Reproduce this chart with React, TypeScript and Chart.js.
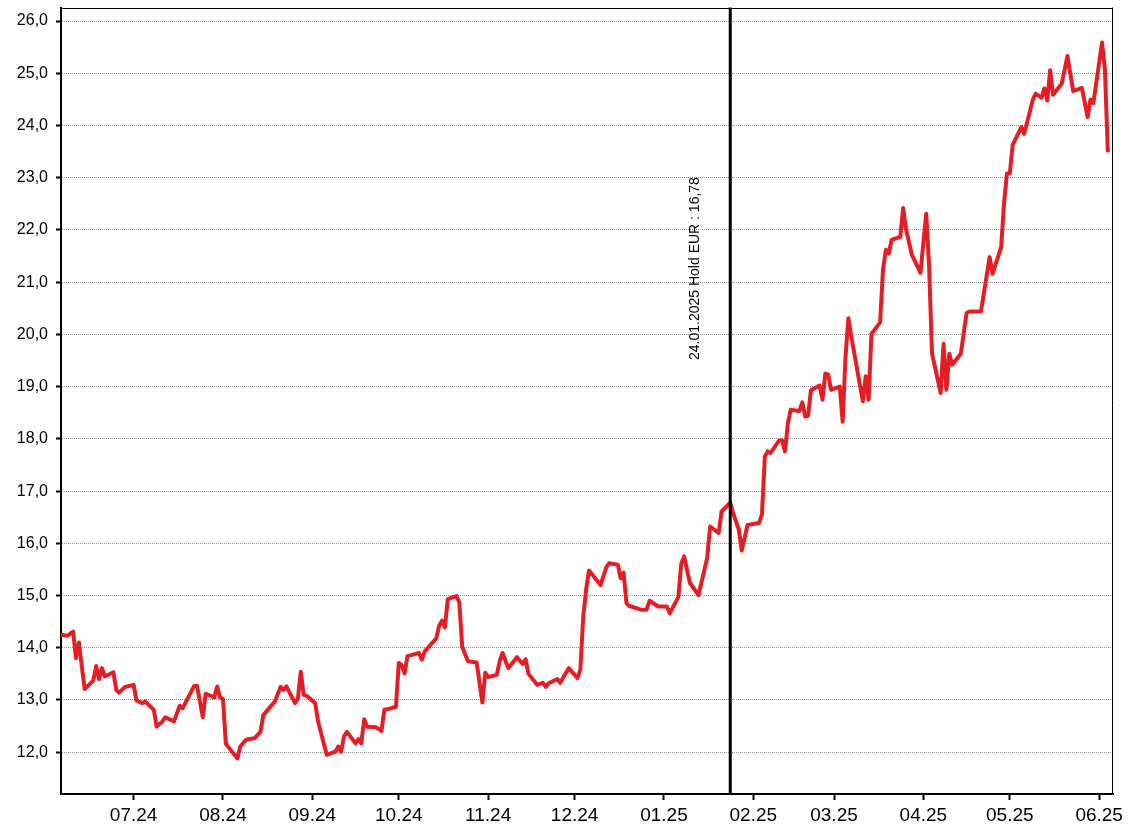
import React, { useEffect, useRef } from "react";
import { Chart, registerables } from "chart.js";

Chart.register(...registerables);

const dates: string[] = [
  "2024-06-06","2024-06-08","2024-06-10","2024-06-11","2024-06-12","2024-06-14","2024-06-17","2024-06-18","2024-06-19","2024-06-20",
  "2024-06-21","2024-06-24","2024-06-25","2024-06-26","2024-06-28","2024-07-01","2024-07-02","2024-07-04","2024-07-05","2024-07-08",
  "2024-07-09","2024-07-11","2024-07-12","2024-07-15","2024-07-17","2024-07-18","2024-07-22","2024-07-23","2024-07-25","2024-07-26",
  "2024-07-29","2024-07-30","2024-07-31","2024-08-01","2024-08-02","2024-08-06","2024-08-07","2024-08-09","2024-08-12","2024-08-14",
  "2024-08-15","2024-08-19","2024-08-21","2024-08-22","2024-08-23","2024-08-26","2024-08-27","2024-08-28","2024-08-29","2024-08-30",
  "2024-09-02","2024-09-03","2024-09-06","2024-09-09","2024-09-10","2024-09-11","2024-09-12","2024-09-13","2024-09-16","2024-09-17",
  "2024-09-18","2024-09-19","2024-09-20","2024-09-23","2024-09-25","2024-09-26","2024-09-27","2024-09-30","2024-10-01","2024-10-02",
  "2024-10-03","2024-10-04","2024-10-08","2024-10-09","2024-10-10","2024-10-14","2024-10-15","2024-10-16","2024-10-17","2024-10-18",
  "2024-10-21","2024-10-22","2024-10-23","2024-10-25","2024-10-28","2024-10-30","2024-10-31","2024-11-01","2024-11-04","2024-11-05",
  "2024-11-06","2024-11-08","2024-11-11","2024-11-13","2024-11-14","2024-11-15","2024-11-18","2024-11-20","2024-11-21","2024-11-22",
  "2024-11-25","2024-11-26","2024-11-28","2024-11-29","2024-12-02","2024-12-03","2024-12-04","2024-12-05","2024-12-06","2024-12-10",
  "2024-12-12","2024-12-13","2024-12-16","2024-12-17","2024-12-18","2024-12-19","2024-12-20","2024-12-24","2024-12-26","2024-12-27",
  "2024-12-30","2025-01-02","2025-01-03","2025-01-06","2025-01-07","2025-01-08","2025-01-10","2025-01-13","2025-01-16","2025-01-17",
  "2025-01-20","2025-01-21","2025-01-23","2025-01-24","2025-01-25","2025-01-27","2025-01-28","2025-01-30","2025-02-03","2025-02-04",
  "2025-02-05","2025-02-06","2025-02-07","2025-02-10","2025-02-11","2025-02-12","2025-02-13","2025-02-14","2025-02-17","2025-02-18",
  "2025-02-19","2025-02-20","2025-02-21","2025-02-24","2025-02-25","2025-02-26","2025-02-27","2025-02-28","2025-03-03","2025-03-04",
  "2025-03-05","2025-03-06","2025-03-07","2025-03-11","2025-03-12","2025-03-13","2025-03-14","2025-03-17","2025-03-18","2025-03-19",
  "2025-03-20","2025-03-21","2025-03-24","2025-03-25","2025-03-26","2025-03-28","2025-03-31","2025-04-02","2025-04-03","2025-04-04",
  "2025-04-07","2025-04-08","2025-04-09","2025-04-10","2025-04-11","2025-04-14","2025-04-16","2025-04-17","2025-04-21","2025-04-22",
  "2025-04-24","2025-04-25","2025-04-28","2025-04-29","2025-04-30","2025-05-01","2025-05-02","2025-05-05","2025-05-06","2025-05-09",
  "2025-05-10","2025-05-12","2025-05-13","2025-05-14","2025-05-15","2025-05-16","2025-05-19","2025-05-21","2025-05-23","2025-05-26",
  "2025-05-28","2025-05-29","2025-05-30","2025-06-02","2025-06-03","2025-06-04"
];

const values: number[] = [
  14.25,14.23,14.31,13.80,14.10,13.21,13.37,13.65,13.40,13.61,
  13.45,13.53,13.19,13.14,13.25,13.29,12.99,12.94,12.97,12.81,
  12.49,12.59,12.67,12.59,12.89,12.84,13.27,13.27,12.67,13.12,
  13.05,13.26,13.05,13.02,12.16,11.88,12.11,12.24,12.27,12.39,
  12.71,12.97,13.25,13.19,13.26,12.94,13.03,13.54,13.10,13.08,
  12.94,12.59,11.95,12.01,12.11,12.01,12.30,12.39,12.17,12.25,
  12.17,12.63,12.49,12.48,12.41,12.82,12.82,12.87,13.71,13.67,
  13.51,13.84,13.90,13.77,13.93,14.18,14.42,14.52,14.39,14.93,
  14.99,14.87,14.02,13.74,13.72,12.95,13.52,13.44,13.48,13.74,
  13.90,13.61,13.82,13.69,13.78,13.50,13.29,13.33,13.25,13.32,
  13.40,13.33,13.52,13.61,13.42,13.58,14.60,15.11,15.48,15.20,
  15.54,15.62,15.59,15.33,15.44,14.85,14.80,14.73,14.73,14.90,
  14.79,14.79,14.66,14.97,15.61,15.75,15.24,15.01,15.72,16.32,
  16.20,16.61,16.72,16.78,16.58,16.26,15.86,16.35,16.39,16.55,
  17.66,17.76,17.73,17.97,17.97,17.76,18.30,18.56,18.53,18.70,
  18.43,18.44,18.93,19.02,18.75,19.25,19.23,18.94,19.00,18.33,
  19.58,20.31,19.96,18.72,19.20,18.75,20.01,20.23,21.24,21.62,
  21.55,21.81,21.87,22.42,22.01,21.53,21.18,22.31,21.30,19.64,
  18.88,19.82,18.94,19.63,19.42,19.63,20.41,20.44,20.44,20.79,
  21.48,21.16,21.67,22.52,23.08,23.08,23.63,23.97,23.84,24.50,
  24.61,24.53,24.71,24.48,25.06,24.59,24.80,25.33,24.66,24.72,
  24.16,24.50,24.43,25.59,25.07,23.52
];

const monthTicks: string[] = [
  "2024-07-01","2024-08-01","2024-09-01","2024-10-01","2024-11-01","2024-12-01",
  "2025-01-01","2025-02-01","2025-03-01","2025-04-01","2025-05-01","2025-06-01"
];
const monthLabels: string[] = [
  "07.24","08.24","09.24","10.24","11.24","12.24","01.25","02.25","03.25","04.25","05.25","06.25"
];
const yTicks: number[] = [12,13,14,15,16,17,18,19,20,21,22,23,24,25,26];

const markerDate = "2025-01-24";
const markerLabel = "24.01.2025 Hold EUR : 16,78";

const BASE = Date.UTC(2024, 6, 1);
const toDay = (s: string) => (Date.parse(s) - BASE) / 86400000;

const FONT = "'Liberation Sans', Arial, sans-serif";

export default function App() {
  const ref = useRef<HTMLCanvasElement | null>(null);

  useEffect(() => {
    document.body.style.margin = "0";
    const canvas = ref.current;
    if (!canvas) return;

    const markerPlugin = {
      id: "marker",
      afterDatasetsDraw(chart: any) {
        const { ctx, chartArea } = chart;
        const x = chart.scales.x.getPixelForValue(toDay(markerDate));
        ctx.save();
        ctx.strokeStyle = "#000";
        ctx.lineWidth = 3;
        ctx.beginPath();
        ctx.moveTo(x, chartArea.top);
        ctx.lineTo(x, chartArea.bottom);
        ctx.stroke();
        ctx.translate(x - 31, chartArea.top + 352.5);
        ctx.rotate(-Math.PI / 2);
        ctx.fillStyle = "#000";
        ctx.font = "14px " + FONT;
        ctx.textAlign = "left";
        ctx.textBaseline = "alphabetic";
        ctx.fillText(markerLabel, 0, 0);
        ctx.restore();
      },
      afterDraw(chart: any) {
        const { ctx, chartArea } = chart;
        ctx.save();
        ctx.strokeStyle = "#000";
        ctx.lineWidth = 1;
        ctx.beginPath();
        ctx.moveTo(chartArea.left, Math.round(chartArea.top) + 0.5);
        ctx.lineTo(chartArea.right, Math.round(chartArea.top) + 0.5);
        ctx.moveTo(Math.round(chartArea.right) - 0.5, chartArea.top);
        ctx.lineTo(Math.round(chartArea.right) - 0.5, chartArea.bottom);
        ctx.stroke();
        ctx.restore();
      },
    };

    const chart = new Chart(canvas, {
      type: "line",
      data: {
        datasets: [
          {
            data: dates.map((d, i) => ({ x: toDay(d), y: values[i] })),
            borderColor: "rgb(228,30,36)",
            borderWidth: 4,
            pointRadius: 0,
            tension: 0,
            borderJoinStyle: "round",
            borderCapStyle: "round",
            fill: false,
          },
        ],
      },
      options: {
        responsive: false,
        animation: false,
        devicePixelRatio: 1,
        layout: { padding: { top: 7.5, right: 15, left: 0, bottom: 0 } },
        plugins: { legend: { display: false }, tooltip: { enabled: false } },
        scales: {
          x: {
            type: "linear",
            min: -25.2,
            max: 339.8,
            afterBuildTicks: (s: any) => {
              s.ticks = monthTicks.map((m) => ({ value: toDay(m) }));
            },
            afterFit: (s: any) => {
              s.height = 42;
              s.paddingLeft = 0;
              s.paddingRight = 0;
            },
            ticks: {
              autoSkip: false,
              maxRotation: 0,
              minRotation: 0,
              padding: 4,
              color: "#000",
              font: { size: 19, family: FONT },
              callback: (v: any) => {
                const i = monthTicks.findIndex((m) => Math.abs(toDay(m) - v) < 0.01);
                return i >= 0 ? monthLabels[i] : "";
              },
            },
            grid: {
              drawOnChartArea: false,
              drawTicks: true,
              tickLength: 6,
              tickColor: "#000",
              tickWidth: 2,
            },
            border: { display: true, color: "#000", width: 2 },
          },
          y: {
            min: 11.2,
            max: 26.26,
            afterBuildTicks: (s: any) => {
              s.ticks = yTicks.map((v) => ({ value: v }));
            },
            afterFit: (s: any) => {
              s.width = 61;
              s.paddingTop = 0;
              s.paddingBottom = 0;
            },
            ticks: {
              padding: 8,
              color: "#000",
              font: { size: 16, family: FONT },
              callback: (v: any) => Number(v).toFixed(1).replace(".", ","),
            },
            grid: {
              color: "#8a8a8a",
              lineWidth: 1,
              tickLength: 5,
              tickColor: "#000",
              tickWidth: 2,
            },
            border: { display: true, color: "#000", width: 2, dash: [1, 1] },
          },
        },
      },
      plugins: [markerPlugin],
    } as any);

    return () => chart.destroy();
  }, []);

  return (
    <canvas
      ref={ref}
      width={1128}
      height={836}
      style={{ display: "block", width: 1128, height: 836 }}
    />
  );
}
